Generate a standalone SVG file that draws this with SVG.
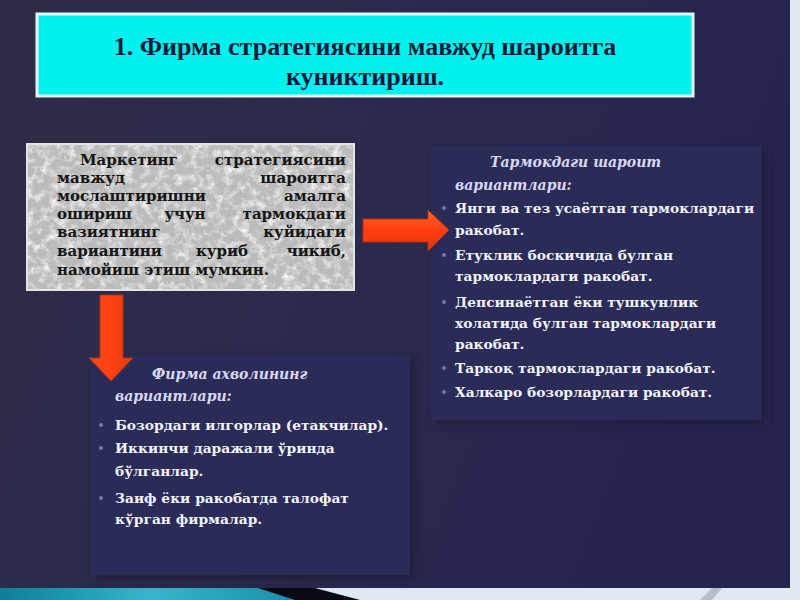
<svg xmlns="http://www.w3.org/2000/svg" width="800" height="600" viewBox="0 0 800 600">
<defs>
<linearGradient id="bg" x1="0" y1="0" x2="1" y2="0.3">
<stop offset="0" stop-color="#302c47"/>
<stop offset="0.5" stop-color="#2b2a4d"/>
<stop offset="1" stop-color="#25244f"/>
</linearGradient>
<linearGradient id="teal" x1="0" y1="0" x2="1" y2="0">
<stop offset="0" stop-color="#0d7f96"/>
<stop offset="0.5" stop-color="#35b6cc"/>
<stop offset="1" stop-color="#1a8ea6"/>
</linearGradient>
<linearGradient id="arrR" x1="0" y1="0" x2="0" y2="1">
<stop offset="0" stop-color="#ff6a2a"/>
<stop offset="0.5" stop-color="#ff3c10"/>
<stop offset="1" stop-color="#e0380c"/>
</linearGradient>
<linearGradient id="arrD" x1="0" y1="0" x2="1" y2="0">
<stop offset="0" stop-color="#f04a18"/>
<stop offset="0.5" stop-color="#ff4212"/>
<stop offset="1" stop-color="#e03c10"/>
</linearGradient>
<filter id="noise" x="0" y="0" width="100%" height="100%">
<feTurbulence type="fractalNoise" baseFrequency="0.12" numOctaves="3" seed="7"/>
<feColorMatrix type="matrix" values="0 0 0 0 1  0 0 0 0 1  0 0 0 0 1  2.2 0 0 0 -0.95"/>
</filter>
<filter id="noise2" x="0" y="0" width="100%" height="100%">
<feTurbulence type="fractalNoise" baseFrequency="0.5" numOctaves="2" seed="2"/>
<feColorMatrix type="matrix" values="0 0 0 0 0.45  0 0 0 0 0.45  0 0 0 0 0.45  0 1.8 0 0 -0.85"/>
</filter>
<filter id="shadow" x="-10%" y="-10%" width="120%" height="120%">
<feGaussianBlur stdDeviation="4"/>
</filter>
</defs>
<style>
.title{font-family:"Liberation Serif",serif;font-weight:bold;font-size:26px;fill:#0d1a3a;text-anchor:middle}
.grey{font-family:"DejaVu Serif","Liberation Serif",serif;font-weight:bold;font-size:15px;fill:#151515}
.hd{font-family:"DejaVu Serif","Liberation Serif",serif;font-weight:bold;font-style:italic;font-size:14px;fill:#d8d8f4}
.it{font-family:"DejaVu Serif","Liberation Serif",serif;font-weight:bold;font-size:13.8px;fill:#f4f4ff}
.dot{fill:#6f7ea6}
.panel{fill:#2b2b58}
</style>
<rect x="0" y="0" width="800" height="600" fill="url(#bg)"/>
<rect x="0" y="588" width="800" height="12" fill="#dfe8f0"/>
<rect x="790" y="0" width="10" height="600" fill="#dfe8f0"/>
<polygon points="0,588 265,588 300,600 0,600" fill="url(#teal)"/>
<polygon points="258,588 315,588 360,600 295,600" fill="#0a0a14"/>
<polygon points="700,600 712,588 722,588 712,600" fill="#b8bfc8"/>

<g id="title">
<rect x="37" y="14" width="656" height="82" fill="#00f2ee" stroke="#e8f4ff" stroke-width="3"/>
<text class="title" x="365" y="55">1. Фирма стратегиясини  мавжуд шароитга</text>
<text class="title" x="365" y="85">куниктириш.</text>
</g>

<g id="marketing">
<rect x="27" y="144" width="327" height="146" fill="#bcbcbc" stroke="#e4e4e4" stroke-width="2"/>
<rect x="28" y="145" width="325" height="144" filter="url(#noise)"/>
<rect x="28" y="145" width="325" height="144" filter="url(#noise2)"/>
<text class="grey" y="165"><tspan x="80">Маркетинг</tspan><tspan x="346" text-anchor="end">стратегиясини</tspan></text>
<text class="grey" y="183"><tspan x="57">мавжуд</tspan><tspan x="346" text-anchor="end">шароитга</tspan></text>
<text class="grey" y="201"><tspan x="57">мослаштиришни</tspan><tspan x="346" text-anchor="end">амалга</tspan></text>
<text class="grey" y="219"><tspan x="57">ошириш</tspan><tspan x="185" text-anchor="middle">учун</tspan><tspan x="346" text-anchor="end">тармокдаги</tspan></text>
<text class="grey" y="237"><tspan x="57">вазиятнинг</tspan><tspan x="346" text-anchor="end">куйидаги</tspan></text>
<text class="grey" y="256"><tspan x="57">вариантини</tspan><tspan x="222" text-anchor="middle">куриб</tspan><tspan x="346" text-anchor="end">чикиб,</tspan></text>
<text class="grey" y="275" x="57">намойиш этиш мумкин.</text>
</g>

<g id="market">
<rect x="436" y="151" width="330" height="274" fill="#1a1a38" opacity="0.7" filter="url(#shadow)"/>
<rect x="431" y="146" width="330" height="274" class="panel"/>
<text class="hd" x="490" y="167">Тармокдаги шароит</text>
<text class="hd" x="455" y="190">вариантлари:</text>
<circle class="dot" cx="444" cy="208" r="2"/>
<text class="it" x="455" y="213">Янги ва тез усаётган тармоклардаги</text>
<text class="it" x="455" y="235">ракобат.</text>
<circle class="dot" cx="444" cy="255" r="2"/>
<text class="it" x="455" y="260">Етуклик боскичида булган</text>
<text class="it" x="455" y="281">тармоклардаги ракобат.</text>
<circle class="dot" cx="444" cy="302" r="2"/>
<text class="it" x="455" y="307">Депсинаётган ёки тушкунлик</text>
<text class="it" x="455" y="328">холатида булган тармоклардаги</text>
<text class="it" x="455" y="349">ракобат.</text>
<circle class="dot" cx="444" cy="368" r="2"/>
<text class="it" x="455" y="373">Таркоқ тармоклардаги ракобат.</text>
<circle class="dot" cx="444" cy="392" r="2"/>
<text class="it" x="455" y="397">Халкаро бозорлардаги ракобат.</text>
</g>

<g id="firm">
<rect x="95" y="360" width="320" height="220" fill="#1a1a38" opacity="0.7" filter="url(#shadow)"/>
<rect x="90" y="355" width="320" height="220" class="panel"/>
<text class="hd" x="152" y="379">Фирма ахволининг</text>
<text class="hd" x="115" y="401">вариантлари:</text>
<circle class="dot" cx="101" cy="425" r="2"/>
<text class="it" x="115" y="430">Бозордаги илгорлар (етакчилар).</text>
<circle class="dot" cx="101" cy="448" r="2"/>
<text class="it" x="115" y="453">Иккинчи  даражали ўринда</text>
<text class="it" x="115" y="476">бўлганлар.</text>
<circle class="dot" cx="101" cy="498" r="2"/>
<text class="it" x="115" y="503">Заиф ёки ракобатда талофат</text>
<text class="it" x="115" y="524">кўрган фирмалар.</text>
</g>

<g id="connectors">
<polygon points="363,219 428,219 428,210 449,230 428,251 428,242 363,242" fill="url(#arrR)" stroke="#b8300c" stroke-width="1"/>
<polygon points="100,295 123,295 123,358 133,358 111,381 89,358 100,358" fill="url(#arrD)" stroke="#b8300c" stroke-width="1"/>
</g>
</svg>
